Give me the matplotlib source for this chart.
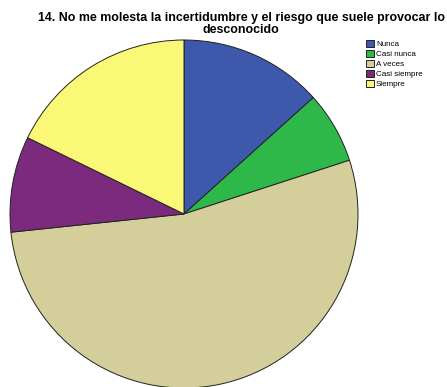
import matplotlib
matplotlib.use("Agg")
import matplotlib.pyplot as plt

# Response counts for item 14
categories = ["Nunca", "Casi nunca", "A veces", "Casi siempre", "Siempre"]
counts = [6, 3, 24, 4, 8]
colors = ["#3E58AC", "#2EB84A", "#D3CE9A", "#7B2A7E", "#FBF777"]

W, H = 447, 387
fig = plt.figure(figsize=(W / 100, H / 100), dpi=100)
fig.patch.set_facecolor("white")

# Pie centred at (184, 214) px from top-left, radius 174 px
cx, cy, r = 184, 214, 174
ax = fig.add_axes([(cx - r) / W, (H - cy - r) / H, 2 * r / W, 2 * r / H])
wedges, _ = ax.pie(counts, colors=colors, startangle=90, counterclock=False,
                   radius=1.0,
                   wedgeprops=dict(edgecolor="#222222", linewidth=0.7))
ax.set_xlim(-1, 1)
ax.set_ylim(-1, 1)
ax.set_aspect("auto")
ax.axis("off")

fig.text(241 / W, 1 - 12 / H,
         "14. No me molesta la incertidumbre y el riesgo que suele provocar lo\ndesconocido",
         ha="center", va="top", fontsize=8.9, fontweight="bold",
         family="Liberation Sans", linespacing=0.95)

leg = fig.legend(wedges, categories, loc="upper left",
                 bbox_to_anchor=(366 / W, 1 - 40 / H),
                 frameon=False, borderpad=0, borderaxespad=0,
                 handlelength=1.0, handleheight=1.0, labelspacing=0.2,
                 handletextpad=0.25, prop={"family": "Liberation Sans", "size": 5.8})

fig.savefig("out.png", dpi=100)
